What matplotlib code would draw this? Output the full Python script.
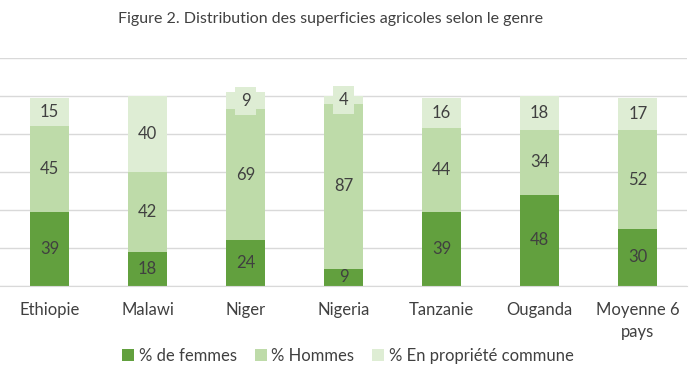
import matplotlib
matplotlib.use("Agg")
import matplotlib.pyplot as plt
import numpy as np

categories = ["Ethiopie", "Malawi", "Niger", "Nigeria", "Tanzanie", "Ouganda", "Moyenne 6\npays"]
femmes = [39, 18, 24, 9, 39, 48, 30]
hommes = [45, 42, 69, 87, 44, 34, 52]
commune = [15, 40, 9, 4, 16, 18, 17]
series_names = ["% de femmes", "% Hommes", "% En propriété commune"]
colors = ["#62a03e", "#bedba9", "#deedd4"]

plt.rcParams['font.family'] = ['Lato', 'DejaVu Sans']

fig = plt.figure(figsize=(6.96, 3.82), dpi=100)
ax = fig.add_axes([0.0007, 0.2513, 0.986, 0.597])

x = np.arange(len(categories))
bottom = np.zeros(len(categories))
for i, (vals, name, col) in enumerate(zip([femmes, hommes, commune], series_names, colors)):
    vals = np.array(vals, dtype=float)
    ax.bar(x, vals, bottom=bottom, width=0.4, color=col, label=name, zorder=2)
    for xi, b, v in zip(x, bottom, vals):
        kw = {}
        if i == 2:
            kw['bbox'] = dict(boxstyle='square,pad=0.35', facecolor=col, edgecolor='none')
        ax.text(xi, b + v / 2, f"{int(v)}", ha='center', va='center',
                fontsize=12, color='#404040', zorder=3, **kw)
    bottom += vals

ax.set_xlim(-0.5, len(categories) - 0.5)
ax.set_ylim(0, 120)
ax.set_yticks(np.arange(0, 121, 20))
ax.yaxis.grid(True, color='#d9d9d9', linewidth=1, zorder=0)
ax.tick_params(axis='y', left=False, labelleft=False)
ax.tick_params(axis='x', bottom=False, labelsize=12, labelcolor='#404040', pad=8)
ax.set_xticks(x)
ax.set_xticklabels(categories, linespacing=1.45)
for s in ['top', 'right', 'left']:
    ax.spines[s].set_visible(False)
ax.spines['bottom'].set_color('#d9d9d9')
ax.set_axisbelow(True)

fig.text(0.475, 0.95, "Figure 2. Distribution des superficies agricoles selon le genre",
         ha='center', va='center', fontsize=11.5, color='#404040')

leg = fig.legend(loc='center', bbox_to_anchor=(0.5, 0.068), ncol=3, frameon=False,
                 fontsize=12, handlelength=0.72, handleheight=0.72, handletextpad=0.25,
                 columnspacing=1.1, labelcolor='#404040')

fig.savefig("out.png", dpi=100)
